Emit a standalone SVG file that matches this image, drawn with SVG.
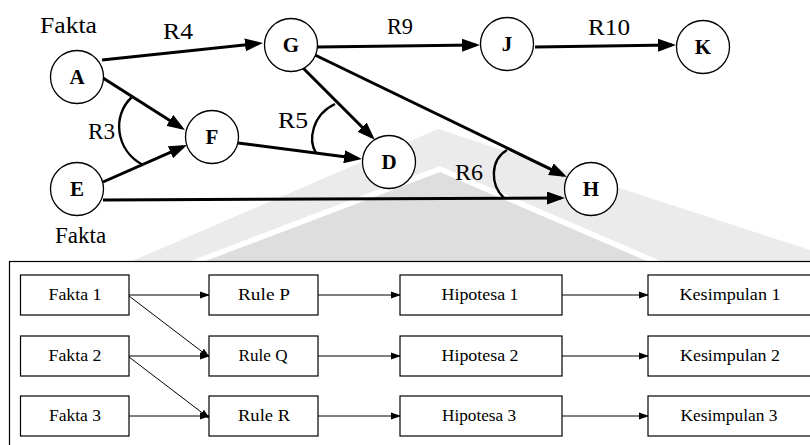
<svg xmlns="http://www.w3.org/2000/svg" width="810" height="445" viewBox="0 0 810 445">
  <style>
    text { font-family: "Liberation Serif", "Times New Roman", serif; fill: #000; }
    .node circle { fill: #ffffff; stroke: #000000; stroke-width: 1.3; }
    .node text { font-weight: bold; font-size: 21px; text-anchor: middle; }
    .lbl { font-size: 23px; }
    .edge { fill: none; stroke: #000; stroke-width: 3; marker-end: url(#head); }
    .arc { fill: none; stroke: #000; stroke-width: 2.4; }
    .box rect { fill: #ffffff; stroke: #000; stroke-width: 1.2; }
    .box text { font-size: 17px; text-anchor: middle; }
    .flow { fill: none; stroke: #000; stroke-width: 1; marker-end: url(#small); }
  </style>
  <defs>
    <marker id="head" markerUnits="userSpaceOnUse" markerWidth="18" markerHeight="13" refX="14" refY="6.5" orient="auto">
      <path d="M0,0 L18,6.5 L0,13 Z" fill="#000"/>
    </marker>
    <marker id="small" markerUnits="userSpaceOnUse" markerWidth="10" markerHeight="8" refX="9" refY="4" orient="auto">
      <path d="M0,0.5 L10,4 L0,7.5 Z" fill="#000"/>
    </marker>
    <clipPath id="upper"><rect x="0" y="0" width="810" height="262"/></clipPath>
  </defs>

  <rect width="810" height="445" fill="#ffffff"/>

  <!-- faint background emblem -->
  <g clip-path="url(#upper)">
    <polygon points="438,129 810,250 810,262 130,262" fill="#ebebeb"/>
    <polygon points="440,166 663,262 188,262" fill="#ffffff"/>
    <polygon points="440,172 649,262 203,262" fill="#dedede"/>
  </g>

  <!-- connectors of the rule network -->
  <g id="connectors">
    <path class="edge" d="M102,60 L259,43.4"/>
    <path class="edge" d="M103,78 L181.6,127.9"/>
    <path class="edge" d="M103,182 L183.3,146.6"/>
    <path class="edge" d="M103,200 L561,198"/>
    <path class="edge" d="M238,143 L358,158.5"/>
    <path class="edge" d="M302,67 L372,137"/>
    <path class="edge" d="M315,55 L563.4,175.3"/>
    <path class="edge" d="M317,47 L476,45"/>
    <path class="edge" d="M535,47 L672,45"/>
    <!-- conjunction arcs -->
    <path class="arc" d="M132,97 C112,115 115,150 143,165"/>
    <path class="arc" d="M335,104 C312,115 308,140 316,153"/>
    <path class="arc" d="M507,150 C490,160 490,185 504,198"/>
  </g>

  <!-- rule and fact labels -->
  <g id="labels">
    <text class="lbl" x="40" y="33" font-size="22" textLength="57" lengthAdjust="spacingAndGlyphs">Fakta</text>
    <text class="lbl" x="55" y="243" font-size="26">Fakta</text>
    <text class="lbl" x="163" y="39" textLength="30" lengthAdjust="spacingAndGlyphs">R4</text>
    <text class="lbl" x="88" y="139" textLength="27" lengthAdjust="spacingAndGlyphs">R3</text>
    <text class="lbl" x="278" y="128" textLength="30" lengthAdjust="spacingAndGlyphs">R5</text>
    <text class="lbl" x="387" y="34" textLength="26" lengthAdjust="spacingAndGlyphs">R9</text>
    <text class="lbl" x="588" y="35" textLength="42" lengthAdjust="spacingAndGlyphs">R10</text>
    <text class="lbl" x="455" y="180" textLength="28" lengthAdjust="spacingAndGlyphs">R6</text>
  </g>

  <!-- nodes -->
  <g id="node-A" class="node"><circle cx="77" cy="77" r="26.5"/><text x="77" y="84">A</text></g>
  <g id="node-E" class="node"><circle cx="77" cy="189" r="26.5"/><text x="77" y="196">E</text></g>
  <g id="node-F" class="node"><circle cx="212" cy="137" r="26.5"/><text x="212" y="144">F</text></g>
  <g id="node-G" class="node"><circle cx="291" cy="45" r="26.5"/><text x="291" y="52">G</text></g>
  <g id="node-D" class="node"><circle cx="389" cy="162" r="26.5"/><text x="389" y="169">D</text></g>
  <g id="node-H" class="node"><circle cx="591" cy="189" r="26.5"/><text x="591" y="196">H</text></g>
  <g id="node-J" class="node"><circle cx="507" cy="44" r="26.5"/><text x="507" y="51">J</text></g>
  <g id="node-K" class="node"><circle cx="703" cy="47" r="26.5"/><text x="703" y="54">K</text></g>

  <!-- forward chaining table -->
  <rect id="frame" x="9.5" y="261.5" width="820" height="200" fill="#ffffff" stroke="#000" stroke-width="1.2"/>

  <g id="flow-connectors">
    <path class="flow" d="M129,295 L209,295"/>
    <path class="flow" d="M129,296 L209,357"/>
    <path class="flow" d="M129,356 L209,356"/>
    <path class="flow" d="M129,357 L209,418"/>
    <path class="flow" d="M129,416 L209,416"/>
    <path class="flow" d="M318,295 L400,295"/>
    <path class="flow" d="M318,356 L400,356"/>
    <path class="flow" d="M318,416 L400,416"/>
    <path class="flow" d="M562,295 L648,295"/>
    <path class="flow" d="M562,356 L648,356"/>
    <path class="flow" d="M562,416 L648,416"/>
  </g>

  <g id="fakta-1" class="box"><rect x="20.5" y="275" width="108.5" height="40"/><text x="75" y="300" textLength="53" lengthAdjust="spacingAndGlyphs">Fakta 1</text></g>
  <g id="fakta-2" class="box"><rect x="20.5" y="336" width="108.5" height="40"/><text x="75" y="361" textLength="53" lengthAdjust="spacingAndGlyphs">Fakta 2</text></g>
  <g id="fakta-3" class="box"><rect x="20.5" y="396" width="108.5" height="40"/><text x="75" y="421" textLength="52" lengthAdjust="spacingAndGlyphs">Fakta 3</text></g>

  <g id="rule-P" class="box"><rect x="209" y="275" width="109" height="40"/><text x="264" y="300" textLength="52" lengthAdjust="spacingAndGlyphs">Rule P</text></g>
  <g id="rule-Q" class="box"><rect x="209" y="336" width="109" height="40"/><text x="263" y="361" textLength="49" lengthAdjust="spacingAndGlyphs">Rule Q</text></g>
  <g id="rule-R" class="box"><rect x="209" y="396" width="109" height="40"/><text x="264" y="421" textLength="52" lengthAdjust="spacingAndGlyphs">Rule R</text></g>

  <g id="hipotesa-1" class="box"><rect x="400" y="275" width="162" height="40"/><text x="480" y="300" textLength="77" lengthAdjust="spacingAndGlyphs">Hipotesa 1</text></g>
  <g id="hipotesa-2" class="box"><rect x="400" y="336" width="162" height="40"/><text x="480" y="361" textLength="77" lengthAdjust="spacingAndGlyphs">Hipotesa 2</text></g>
  <g id="hipotesa-3" class="box"><rect x="400" y="396" width="162" height="40"/><text x="479" y="421" textLength="74" lengthAdjust="spacingAndGlyphs">Hipotesa 3</text></g>

  <g id="kesimpulan-1" class="box"><rect x="648" y="275" width="170" height="40"/><text x="730" y="300" textLength="101" lengthAdjust="spacingAndGlyphs">Kesimpulan 1</text></g>
  <g id="kesimpulan-2" class="box"><rect x="648" y="336" width="170" height="40"/><text x="730" y="361" textLength="100" lengthAdjust="spacingAndGlyphs">Kesimpulan 2</text></g>
  <g id="kesimpulan-3" class="box"><rect x="648" y="396" width="170" height="40"/><text x="729" y="421" textLength="97" lengthAdjust="spacingAndGlyphs">Kesimpulan 3</text></g>
</svg>
